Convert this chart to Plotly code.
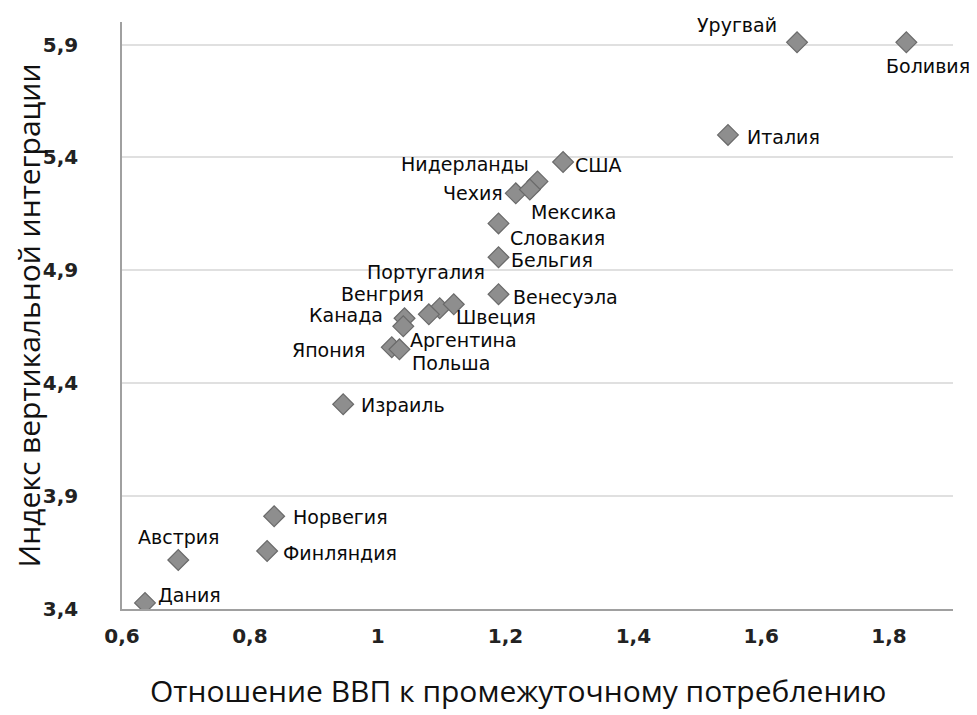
import plotly.graph_objects as go

countries = ["Уругвай", "Боливия", "Италия", "США", "Нидерланды", "Чехия", "Мексика",
             "Словакия", "Бельгия", "Венесуэла", "Португалия", "Венгрия", "Швеция",
             "Канада", "Аргентина", "Япония", "Польша", "Израиль", "Норвегия",
             "Финляндия", "Австрия", "Дания"]
gdp_ratio = [1.656, 1.827, 1.548, 1.290, 1.250, 1.216, 1.238,
             1.189, 1.189, 1.189, 1.097, 1.080, 1.119,
             1.042, 1.040, 1.022, 1.034, 0.946, 0.838,
             0.827, 0.688, 0.636]
vi_index = [5.91, 5.91, 5.50, 5.38, 5.294, 5.241, 5.258,
            5.108, 4.958, 4.794, 4.732, 4.705, 4.750,
            4.688, 4.652, 4.559, 4.550, 4.307, 3.811,
            3.657, 3.617, 3.427]

x_ticks = [0.6, 0.8, 1.0, 1.2, 1.4, 1.6, 1.8]
y_ticks = [3.4, 3.9, 4.4, 4.9, 5.4, 5.9]
x_title = "Отношение ВВП к промежуточному потреблению"
y_title = "Индекс вертикальной интеграции"

# label placement: (xanchor, xshift, yshift)
label_pos = {
    "Уругвай": ("right", -18, 17),
    "Боливия": ("right", 66, -24),
    "Италия": ("left", 17, -2),
    "США": ("left", 10, -3),
    "Нидерланды": ("right", -7, 17),
    "Чехия": ("right", -11, 0),
    "Мексика": ("left", -1, -22),
    "Словакия": ("left", 9, -15),
    "Бельгия": ("left", 10, -3),
    "Венесуэла": ("left", 12, -3),
    "Португалия": ("center", -14, 36),
    "Венгрия": ("right", -3, 20),
    "Швеция": ("left", 0, -13),
    "Канада": ("right", -20, 3),
    "Аргентина": ("left", 5, -14),
    "Япония": ("right", -25, -3),
    "Польша": ("left", 11, -14),
    "Израиль": ("left", 16, -1),
    "Норвегия": ("left", 17, -1),
    "Финляндия": ("left", 14, -2),
    "Австрия": ("center", 1, 23),
    "Дания": ("left", 11, 8),
}

fig = go.Figure()
fig.add_trace(go.Scatter(
    x=gdp_ratio, y=vi_index, mode="markers",
    marker=dict(symbol="diamond", size=16, color="#8e8e8e",
                line=dict(color="#6a6a6a", width=1.2)),
    hoverinfo="text", text=countries, showlegend=False,
))

annotations = []
for name, xv, yv in zip(countries, gdp_ratio, vi_index):
    xa, xs, ys = label_pos[name]
    annotations.append(dict(
        x=xv, y=yv, xref="x", yref="y", text=name, showarrow=False,
        xanchor=xa, yanchor="middle", xshift=xs, yshift=ys,
        font=dict(family="DejaVu Sans", size=19, color="#0a0a0a"),
    ))
# x-axis title (slightly left of plot centre, as in the original)
annotations.append(dict(
    x=0.476, y=-0.138, xref="paper", yref="paper", text=x_title, showarrow=False,
    xanchor="center", yanchor="middle",
    font=dict(family="Open Sans", size=30, color="#111111"),
))

# The page body has an 8px margin, so the figure is sized to fit the window.
fig.update_layout(
    width=969, height=707,
    margin=dict(l=114, r=24, t=14, b=106),
    paper_bgcolor="white", plot_bgcolor="white",
    separators=", ",
    annotations=annotations,
    xaxis=dict(
        range=[0.6, 1.9], tickvals=x_ticks, showgrid=False, zeroline=False,
        showline=True, linecolor="#a0a0a0", linewidth=1.5,
        ticks="", ticklabelstandoff=8,
        tickfont=dict(family="DejaVu Sans", size=20, color="#222222", weight="bold"),
    ),
    yaxis=dict(
        range=[3.4, 6.0], tickvals=y_ticks, showgrid=True, gridcolor="#e0e0e0", gridwidth=1.5,
        zeroline=False, showline=True, linecolor="#a0a0a0", linewidth=1.5,
        ticks="", ticklabelstandoff=38,
        tickfont=dict(family="DejaVu Sans", size=20, color="#222222", weight="bold"),
        title=dict(text=y_title,
                   font=dict(family="Open Sans", size=30, color="#111111"), standoff=0),
    ),
)

fig.write_html("out.html")
